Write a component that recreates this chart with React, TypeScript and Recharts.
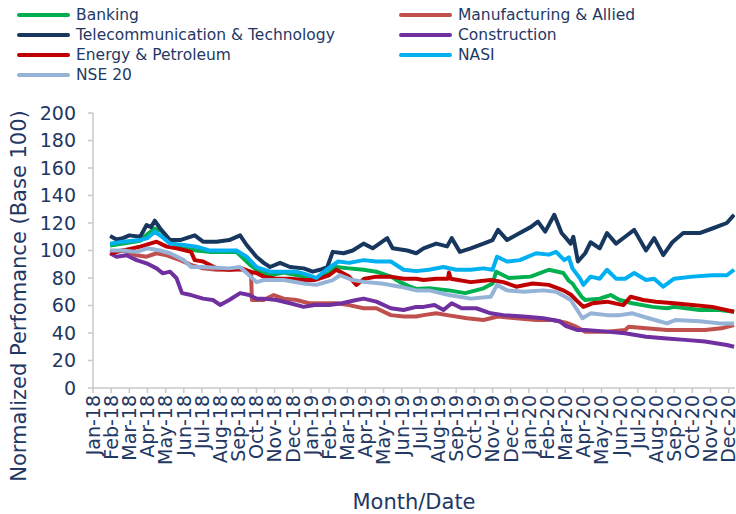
import { Line, LineChart, XAxis, YAxis } from "recharts";

// month index 0 = Jan-18
const monthLabels = [
  "Jan-18", "Feb-18", "Mar-18", "Apr-18", "May-18", "Jun-18", "Jul-18", "Aug-18", "Sep-18", "Oct-18", "Nov-18", "Dec-18",
  "Jan-19", "Feb-19", "Mar-19", "Apr-19", "May-19", "Jun-19", "Jul-19", "Aug-19", "Sep-19", "Oct-19", "Nov-19", "Dec-19",
  "Jan-20", "Feb-20", "Mar-20", "Apr-20", "May-20", "Jun-20", "Jul-20", "Aug-20", "Sep-20", "Oct-20", "Nov-20", "Dec-20",
];
const yTicks = [0, 20, 40, 60, 80, 100, 120, 140, 160, 180, 200];

// [month offset, value]
const banking: [number, number][] = [
  [0.94, 103.6], [1.65, 105], [2.6, 107], [3.0, 112], [3.4, 116], [3.8, 114], [4.24, 106], [5.0, 102], [5.7, 100],
  [6.4, 99], [7.2, 99], [7.9, 99], [8.46, 92], [8.65, 89.5], [9.0, 86], [9.75, 82], [10.5, 84], [11.6, 81], [12.2, 79.5],
  [12.8, 82], [13.4, 88], [14.1, 87], [14.9, 86], [15.6, 84.6], [16.4, 81], [16.9, 77], [17.45, 73.7], [17.8, 72],
  [18.5, 72.5], [19.6, 71], [20.5, 69], [21.5, 72.5], [22.0, 76], [22.2, 84.6], [22.9, 80], [24.1, 81], [25.1, 86],
  [25.9, 83.6], [26.2, 78], [26.4, 76], [26.6, 72], [26.9, 66.4], [27.1, 64], [27.9, 65], [28.5, 67.6], [29.0, 64],
  [29.7, 61.6], [30.8, 59], [31.6, 58], [32.0, 59], [33.4, 56.7], [34.5, 56.7], [35.3, 55.5],
];
const manufacturing: [number, number][] = [
  [0.94, 99], [1.65, 100], [2.4, 96.5], [2.95, 95.5], [3.5, 98], [4.06, 96.5], [4.8, 93], [5.4, 89.5], [6.06, 87],
  [6.8, 86], [7.5, 86], [8.2, 86], [8.7, 84.6], [8.75, 64], [9.4, 64], [9.95, 67.6], [10.5, 65], [11.2, 64], [11.9, 61.6],
  [12.6, 61.6], [13.4, 61.6], [14.1, 60.3], [14.9, 58], [15.6, 58], [16.4, 53], [17.1, 52], [17.8, 52], [18.2, 53],
  [18.9, 54.3], [19.5, 53], [20.6, 50.7], [21.5, 49.5], [22.3, 52], [23.3, 50.7], [24.4, 49.5], [25.3, 49.5],
  [26.05, 47.5], [26.6, 44.6], [27.1, 41], [28.3, 41], [29.3, 42.2], [29.5, 44.6], [30.45, 43.4], [31.6, 42.2],
  [32.6, 42.2], [33.7, 42.2], [34.6, 43.4], [35.3, 45.8],
];
const telecom: [number, number][] = [
  [0.94, 110.5], [1.3, 108], [1.65, 109], [2.0, 111], [2.6, 110], [2.95, 118.5], [3.2, 117], [3.4, 121.7], [3.7, 116],
  [4.24, 107.6], [4.8, 107.6], [5.6, 111], [6.06, 106.4], [6.8, 106.4], [7.5, 107.6], [8.1, 111], [8.46, 104],
  [9.0, 95.5], [9.4, 91], [9.75, 88], [10.3, 91], [10.85, 88], [11.6, 87], [12.1, 84.6], [12.5, 86], [12.9, 88],
  [13.2, 99], [13.8, 98], [14.3, 100], [14.9, 105], [15.4, 101.6], [16.2, 109], [16.5, 101.6], [17.3, 100], [17.8, 98],
  [18.2, 101.6], [18.9, 105], [19.5, 103], [19.75, 109], [20.2, 99], [20.8, 101.6], [21.5, 105], [22.0, 107.6],
  [22.3, 115], [22.8, 107.6], [23.5, 112.7], [24.1, 117], [24.5, 121], [24.9, 113.7], [25.4, 126], [25.8, 112.7],
  [26.05, 109], [26.3, 105], [26.45, 110], [26.7, 92], [27.1, 98], [27.4, 106], [27.9, 101.6], [28.3, 112.7],
  [28.8, 105], [29.3, 110], [29.8, 115], [30.45, 100], [30.9, 109], [31.4, 96.7], [31.9, 106], [32.5, 112.7],
  [33.4, 112.7], [34.1, 116], [34.9, 120], [35.3, 126],
];
const construction: [number, number][] = [
  [0.94, 98], [1.3, 95.5], [1.85, 96.5], [2.4, 93], [2.95, 90.7], [3.5, 87], [3.85, 83.4], [4.24, 84.6], [4.6, 79.8],
  [4.9, 69], [5.4, 67.6], [6.06, 65], [6.6, 64], [7.0, 60.4], [7.5, 64], [8.1, 69], [8.6, 67.6], [9.0, 65], [9.4, 65],
  [10.1, 64], [10.85, 61.6], [11.6, 59], [12.2, 60.3], [13.0, 60.3], [13.7, 61.6], [14.5, 64], [14.9, 65], [15.6, 62.8],
  [16.4, 58], [17.1, 56.7], [17.8, 59], [18.2, 59], [18.8, 60.4], [19.3, 56.7], [19.75, 61.6], [20.3, 58], [21.1, 58],
  [21.9, 54.3], [22.6, 53], [23.7, 52], [24.8, 50.7], [25.7, 48.5], [26.05, 45], [26.65, 42.2], [27.1, 42.2],
  [28.3, 41], [29.3, 39.8], [30.45, 37.3], [31.6, 36], [32.6, 35], [33.7, 33.8], [34.9, 31.3], [35.3, 30],
];
const energy: [number, number][] = [
  [0.94, 98], [1.65, 100], [2.6, 102.8], [3.5, 106.4], [4.06, 102.8], [4.6, 101.6], [5.4, 99], [5.6, 93], [6.06, 92],
  [6.8, 87], [7.5, 86], [8.2, 87], [8.65, 84.6], [9.0, 83.6], [9.4, 81], [10.1, 79.5], [10.85, 79.5], [11.6, 78.5],
  [12.2, 78.5], [13.0, 82], [13.4, 86], [14.1, 81], [14.5, 75], [14.95, 79.5], [15.6, 81], [16.4, 81], [17.1, 79.5],
  [17.8, 79.5], [18.2, 78.5], [18.9, 79.5], [19.55, 79.5], [19.6, 84], [19.7, 79.5], [20.8, 77], [21.9, 78.5],
  [22.6, 77], [23.3, 73.7], [24.2, 76], [25.1, 75], [25.9, 71], [26.3, 68], [26.6, 64], [27.0, 59], [27.5, 61.6],
  [28.3, 62.8], [29.2, 60.3], [29.6, 66.4], [30.3, 64], [31.0, 62.8], [32.0, 61.6], [33.0, 60.3], [34.1, 59],
  [35.3, 55.5],
];
const nasi: [number, number][] = [
  [0.94, 105], [1.65, 106.4], [2.6, 107.6], [3.0, 109], [3.4, 113.7], [3.8, 110], [4.24, 105], [5.0, 104], [5.7, 102.8],
  [6.4, 100], [7.2, 100], [7.9, 100], [8.46, 95.5], [9.0, 88], [9.2, 87], [9.75, 84.6], [10.5, 84.6], [11.2, 84.6],
  [11.9, 82], [12.3, 80], [12.8, 85.5], [13.5, 92], [14.1, 91], [14.9, 93], [15.6, 92], [16.4, 92], [17.1, 86],
  [17.8, 85], [18.5, 86], [19.3, 88], [20.0, 86], [20.8, 86], [21.5, 87], [22.0, 86], [22.25, 95.5], [22.8, 92],
  [23.5, 93], [24.4, 98], [25.1, 97], [25.5, 99], [25.95, 93], [26.2, 95], [26.4, 87], [26.8, 80], [27.0, 75],
  [27.4, 81], [27.9, 79.5], [28.3, 86], [28.8, 79.5], [29.3, 79.5], [29.8, 83.6], [30.45, 78.5], [30.9, 79.5],
  [31.4, 73.7], [32.0, 79.5], [33.0, 81], [34.1, 82], [34.9, 82], [35.3, 86],
];
const nse20: [number, number][] = [
  [0.94, 100], [1.65, 100], [2.4, 99], [3.0, 101.6], [3.7, 100], [4.24, 98], [5.0, 93], [5.4, 88], [6.06, 88],
  [6.8, 87.5], [7.5, 87], [8.1, 88], [8.6, 82], [9.0, 77], [9.4, 78.5], [10.5, 78.5], [11.6, 76], [12.3, 75],
  [13.2, 78.5], [13.6, 82], [14.3, 78.5], [15.0, 77], [15.9, 76], [16.9, 73.7], [17.8, 71], [18.5, 71], [19.6, 67.6],
  [20.8, 65], [21.9, 66.4], [22.25, 75], [22.8, 71], [23.7, 70], [24.8, 71], [25.5, 70], [26.05, 66], [26.3, 64],
  [26.6, 58], [26.95, 50.7], [27.4, 54.3], [28.3, 53], [29.0, 53], [29.7, 54.3], [30.6, 50.7], [31.6, 47], [32.1, 49.5],
  [33.4, 48.5], [34.5, 47], [35.3, 47],
];

const series = [
  { name: "Banking", color: "#00B050", points: banking },
  { name: "Manufacturing & Allied", color: "#C0504D", points: manufacturing },
  { name: "Telecommunication & Technology", color: "#17375E", points: telecom },
  { name: "Construction", color: "#7030A0", points: construction },
  { name: "Energy & Petroleum", color: "#C00000", points: energy },
  { name: "NASI", color: "#00B0F0", points: nasi },
  { name: "NSE 20", color: "#95B3D7", points: nse20 },
];

const FONT = "'DejaVu Sans', sans-serif";
const TEXT = "#1F3864";
const AXIS = "#C8C8C8";

function MonthTick(props: any) {
  const { x, y, payload } = props;
  return (
    <text
      x={x}
      y={y}
      transform={`rotate(-90 ${x} ${y})`}
      textAnchor="end"
      dy="0.36em"
      fill={TEXT}
      fontSize={19}
      fontFamily={FONT}
    >
      {monthLabels[payload.value]}
    </text>
  );
}

function Legend() {
  return (
    <div style={{ position: "absolute", left: 0, top: 0, width: 736, fontFamily: FONT, fontSize: 15.5, color: TEXT }}>
      {series.map((s, i) => (
        <div
          key={s.name}
          style={{
            position: "absolute",
            left: i % 2 === 0 ? 17 : 399,
            top: 5 + Math.floor(i / 2) * 20,
            height: 20,
            display: "flex",
            alignItems: "center",
            whiteSpace: "nowrap",
          }}
        >
          <span style={{ display: "inline-block", width: 53, height: 4, borderRadius: 2, background: s.color, marginRight: 6 }} />
          <span>{s.name}</span>
        </div>
      ))}
    </div>
  );
}

export default function App() {
  return (
    <div style={{ position: "relative", width: 736, height: 514, background: "#fff" }}>
      <style>{"body{margin:0}"}</style>
      <LineChart width={736} height={514} margin={{ top: 113, right: 1, left: 0, bottom: 0 }}>
        <XAxis
          dataKey="m"
          type="number"
          domain={[0, 35.35]}
          ticks={monthLabels.map((_, i) => i)}
          interval={0}
          allowDataOverflow
          height={126}
          stroke={AXIS}
          strokeWidth={1.5}
          tickSize={5}
          tickMargin={2}
          tick={<MonthTick />}
          label={(p: any) => {
            const vb = p.viewBox;
            return (
              <text x={vb.x + vb.width / 2} y={vb.y + vb.height - 5} textAnchor="middle" fill={TEXT} fontSize={21} fontFamily={FONT}>
                Month/Date
              </text>
            );
          }}
        />
        <YAxis
          type="number"
          domain={[0, 200]}
          ticks={yTicks}
          interval={0}
          width={93}
          stroke={AXIS}
          strokeWidth={1.5}
          tickSize={5}
          tickMargin={12}
          tick={{ fill: TEXT, fontSize: 19, fontFamily: FONT }}
          label={() => (
            <text x={0} y={0} transform="translate(26 296) rotate(-90)" textAnchor="middle" fill={TEXT} fontSize={21} fontFamily={FONT}>
              Normalized Perfomance (Base 100)
            </text>
          )}
        />
        {series.map((s) => (
          <Line
            key={s.name}
            data={s.points.map(([m, v]) => ({ m, v }))}
            dataKey="v"
            name={s.name}
            type="linear"
            stroke={s.color}
            strokeWidth={4}
            strokeLinejoin="round"
            dot={false}
            activeDot={false}
            isAnimationActive={false}
          />
        ))}
      </LineChart>
      <Legend />
    </div>
  );
}
